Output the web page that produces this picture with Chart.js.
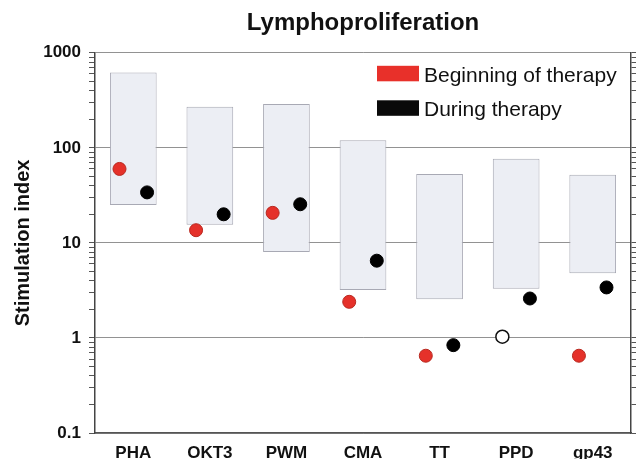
<!DOCTYPE html>
<html>
<head>
    <title>Lymphoproliferation</title>
    <style>
        body {
            margin: 0;
            padding: 0;
            background-color: #fff;
        }

        #chart-container {
            width: 639px;
            height: 459px;
        }
    </style>
</head>
<body>
    <div id="chart-container">
        <canvas id="lympho-chart"></canvas>
    </div>

    <script src="https://cdn.jsdelivr.net/npm/chart.js"></script>
    <script>
        // values
        const categories = ['PHA', 'OKT3', 'PWM', 'CMA', 'TT', 'PPD', 'gp43'];
        const rangeLow = [25, 15.5, 8, 3.2, 2.55, 3.3, 4.8];
        const rangeHigh = [620, 270, 290, 120, 53, 77, 52];
        const beginning = [60, 13.6, 20.7, 2.4, 0.65, 1.03, 0.65];
        const during = [34, 20, 25.5, 6.5, 0.84, 2.6, 3.4];
        const decadeTicks = [0.1, 1, 10, 100, 1000];

        const FONT = '"Liberation Sans", Arial, Helvetica, sans-serif';

        // decades plus the 2..9 minor marks in between
        const allTicks = [];
        decadeTicks.forEach((d, i) => {
            allTicks.push(d);
            if (i < decadeTicks.length - 1) {
                for (let k = 2; k <= 9; k++) allTicks.push(d * k);
            }
        });
        const isDecade = v => Math.abs(Math.log10(v) - Math.round(Math.log10(v))) < 1e-6;

        const setLogTicks = scale => {
            scale.ticks = allTicks.map(v => ({ value: v, major: isDecade(v) }));
        };

        const shift = 0.18;   // dots sit left / right of the box centre
        const openIdx = categories.indexOf('PPD');

        // legend drawn inside the plot, top right
        const insideLegend = {
            id: 'insideLegend',
            afterDraw(chart) {
                const ctx = chart.ctx;
                const area = chart.chartArea;
                const items = [
                    { text: 'Beginning of therapy', color: '#e8302a' },
                    { text: 'During therapy', color: '#0a0a0a' }
                ];
                ctx.save();
                ctx.font = '21px ' + FONT;
                ctx.textBaseline = 'alphabetic';
                ctx.textAlign = 'left';
                items.forEach((it, i) => {
                    const bx = area.right - 254;
                    const by = area.top + 13 + i * 34.5;
                    ctx.fillStyle = it.color;
                    ctx.fillRect(bx, by, 42, 15.5);
                    ctx.fillStyle = '#111';
                    ctx.fillText(it.text, bx + 47, by + 16);
                });
                ctx.restore();
            }
        };

        const ctx = document.getElementById('lympho-chart').getContext('2d');
        const chart = new Chart(ctx, {
            data: {
                labels: categories,
                datasets: [
                    {
                        type: 'bar',
                        label: 'Range',
                        data: categories.map((c, i) => [rangeLow[i], rangeHigh[i]]),
                        backgroundColor: '#eceef4',
                        borderColor: '#a8a9b4',
                        borderWidth: 1,
                        borderSkipped: false,
                        grouped: false,
                        barPercentage: 0.61,
                        categoryPercentage: 1,
                        xAxisID: 'x',
                        yAxisID: 'y',
                        order: 3
                    },
                    {
                        type: 'scatter',
                        label: 'Beginning of therapy',
                        data: beginning.map((v, i) => ({ x: i - shift, y: v })),
                        pointRadius: 6.5,
                        pointHoverRadius: 6.5,
                        pointBackgroundColor: c => c.dataIndex === openIdx ? '#ffffff' : '#e5312a',
                        pointBorderColor: c => c.dataIndex === openIdx ? '#111' : '#b8281f',
                        pointBorderWidth: c => c.dataIndex === openIdx ? 1.5 : 1,
                        xAxisID: 'xp',
                        yAxisID: 'y',
                        order: 1
                    },
                    {
                        type: 'scatter',
                        label: 'During therapy',
                        data: during.map((v, i) => ({ x: i + shift, y: v })),
                        pointRadius: 6.5,
                        pointHoverRadius: 6.5,
                        pointBackgroundColor: '#000',
                        pointBorderColor: '#000',
                        pointBorderWidth: 1,
                        xAxisID: 'xp',
                        yAxisID: 'y',
                        order: 1
                    }
                ]
            },
            options: {
                responsive: true,
                maintainAspectRatio: false,
                animation: false,
                layout: {
                    padding: { left: 0, right: 0, top: 0, bottom: 0 }
                },
                plugins: {
                    legend: { display: false },
                    tooltip: { enabled: false },
                    title: {
                        display: true,
                        text: 'Lymphoproliferation',
                        fullSize: false,
                        color: '#111',
                        font: { family: FONT, size: 24, weight: 'bold' },
                        padding: { top: 9, bottom: 15 }
                    }
                },
                scales: {
                    x: {
                        type: 'category',
                        offset: true,
                        grid: { display: false, drawTicks: false },
                        border: { display: true, color: '#555', width: 1.5 },
                        ticks: {
                            color: '#111',
                            padding: 10,
                            font: { family: FONT, size: 17, weight: 'bold' }
                        },
                        afterFit: scale => { scale.height = 26; }
                    },
                    xp: {
                        type: 'linear',
                        display: false,
                        min: -0.5,
                        max: categories.length - 0.5
                    },
                    y: {
                        type: 'logarithmic',
                        position: 'left',
                        min: 0.1,
                        max: 1000,
                        afterBuildTicks: setLogTicks,
                        afterFit: scale => { scale.width = 95; },
                        grid: {
                            color: c => (c.tick && isDecade(c.tick.value)) ? 'rgba(110,110,110,0.75)' : 'rgba(0,0,0,0)',
                            lineWidth: 1,
                            tickColor: '#555',
                            tickLength: 6
                        },
                        border: { display: true, color: '#444', width: 1.5 },
                        ticks: {
                            autoSkip: false,
                            color: '#111',
                            padding: 8,
                            font: { family: FONT, size: 17, weight: 'bold' },
                            callback: v => isDecade(v) ? String(v) : ''
                        },
                        title: {
                            display: true,
                            text: 'Stimulation index',
                            color: '#111',
                            font: { family: FONT, size: 20, weight: 'bold' },
                            padding: { top: 11, bottom: 0 }
                        }
                    },
                    y2: {
                        type: 'logarithmic',
                        position: 'right',
                        min: 0.1,
                        max: 1000,
                        afterBuildTicks: setLogTicks,
                        afterFit: scale => { scale.width = 5; },
                        grid: {
                            drawOnChartArea: false,
                            tickColor: '#555',
                            tickLength: 5
                        },
                        border: { display: true, color: '#444', width: 1.5 },
                        ticks: { display: false, autoSkip: false }
                    }
                }
            },
            plugins: [insideLegend]
        });
    </script>
</body>
</html>
